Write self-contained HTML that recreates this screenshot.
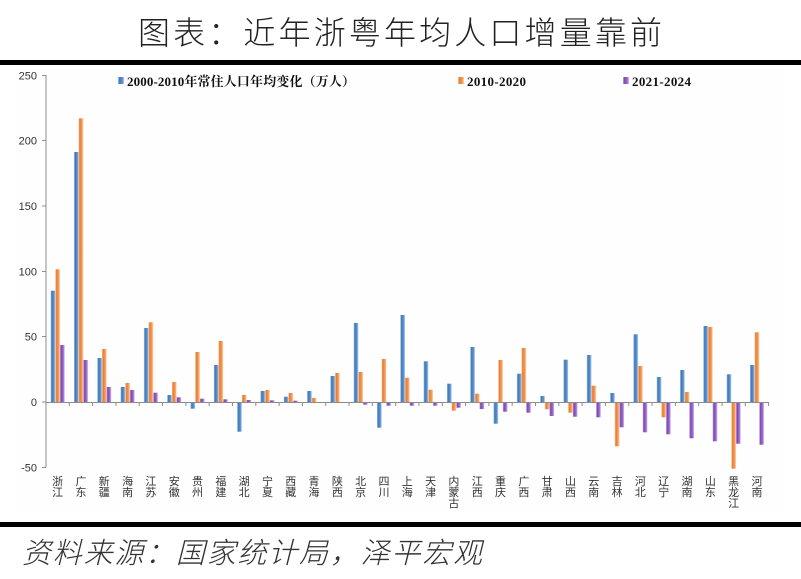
<!DOCTYPE html>
<html><head><meta charset="utf-8">
<style>
html,body{margin:0;padding:0;background:#fff;}
body{width:801px;height:579px;overflow:hidden;position:relative;}
svg{display:block;}
</style></head>
<body>
<svg width="801" height="579" viewBox="0 0 801 579" xmlns="http://www.w3.org/2000/svg">
<defs>
<linearGradient id="gb" x1="0" y1="0" x2="1" y2="0">
<stop offset="0" stop-color="#a9c9ea"/><stop offset="0.25" stop-color="#3f79b9"/><stop offset="0.7" stop-color="#5c90cb"/><stop offset="1" stop-color="#b3d0ee"/>
</linearGradient>
<linearGradient id="go" x1="0" y1="0" x2="1" y2="0">
<stop offset="0" stop-color="#fbc9a2"/><stop offset="0.25" stop-color="#ea7a30"/><stop offset="0.7" stop-color="#f39b58"/><stop offset="1" stop-color="#fcd3b2"/>
</linearGradient>
<linearGradient id="gp" x1="0" y1="0" x2="1" y2="0">
<stop offset="0" stop-color="#c9aae3"/><stop offset="0.25" stop-color="#7b47b1"/><stop offset="0.7" stop-color="#9b6bcc"/><stop offset="1" stop-color="#d6bdec"/>
</linearGradient>
</defs>
<rect x="0" y="0" width="801" height="579" fill="#fff"/>
<rect x="17" y="66" width="766" height="445" fill="#fefefe"/>

<!-- title -->
<text x="138" y="44" textLength="524" lengthAdjust="spacing" font-family="'Liberation Sans','Noto Sans CJK SC',sans-serif" font-size="32" font-weight="300" fill="#222">图表：近年浙粤年均人口增量靠前</text>
<rect x="0" y="60" width="801" height="5" fill="#000"/>

<!-- footer -->
<rect x="0" y="522" width="801" height="5" fill="#000"/>
<text x="22" y="563" textLength="460" lengthAdjust="spacing" font-family="'Liberation Sans','Noto Sans CJK SC',sans-serif" font-size="29" font-style="italic" font-weight="300" fill="#333">资料来源：国家统计局，泽平宏观</text>

<!-- y axis -->
<g stroke="#8c8c8c" stroke-width="1">
<line x1="46" y1="75" x2="46" y2="467.5"/>
<line x1="42" y1="75.5" x2="46" y2="75.5"/>
<line x1="42" y1="140.5" x2="46" y2="140.5"/>
<line x1="42" y1="206" x2="46" y2="206"/>
<line x1="42" y1="271.5" x2="46" y2="271.5"/>
<line x1="42" y1="336.5" x2="46" y2="336.5"/>
<line x1="42" y1="402" x2="46" y2="402"/>
<line x1="42" y1="467.5" x2="46" y2="467.5"/>
</g>
<g font-family="'Liberation Sans',sans-serif" font-size="11" fill="#333" text-anchor="end">
<text x="37" y="79.5">250</text>
<text x="37" y="144.5">200</text>
<text x="37" y="210">150</text>
<text x="37" y="275.5">100</text>
<text x="37" y="340.5">50</text>
<text x="37" y="406">0</text>
<text x="37" y="471.5">-50</text>
</g>

<!-- legend -->
<rect x="118" y="77" width="6" height="7" fill="url(#gb)"/>
<text x="127" y="86" textLength="228" lengthAdjust="spacing" font-family="'Liberation Serif','Noto Serif CJK SC',serif" font-size="13" font-weight="bold" fill="#111">2000-2010年常住人口年均变化（万人）</text>
<rect x="458" y="77" width="6" height="7" fill="url(#go)"/>
<text x="467" y="86" textLength="59" lengthAdjust="spacing" font-family="'Liberation Serif','Noto Serif CJK SC',serif" font-size="13" font-weight="bold" fill="#111">2010-2020</text>
<rect x="623" y="77" width="6" height="7" fill="url(#gp)"/>
<text x="632" y="86" textLength="59" lengthAdjust="spacing" font-family="'Liberation Serif','Noto Serif CJK SC',serif" font-size="13" font-weight="bold" fill="#111">2021-2024</text>

<!-- bars blue -->
<g fill="url(#gb)">
<rect x="50.66" y="290.7" width="4.66" height="111.3"/>
<rect x="73.97" y="152" width="4.66" height="250"/>
<rect x="97.28" y="358" width="4.66" height="44"/>
<rect x="120.59" y="387" width="4.66" height="15"/>
<rect x="143.90" y="328" width="4.66" height="74"/>
<rect x="167.21" y="395" width="4.66" height="7"/>
<rect x="190.52" y="402" width="4.66" height="6.7"/>
<rect x="213.83" y="365" width="4.66" height="37"/>
<rect x="237.14" y="402" width="4.66" height="29.7"/>
<rect x="260.45" y="391" width="4.66" height="11"/>
<rect x="283.76" y="396.7" width="4.66" height="5.3"/>
<rect x="307.07" y="391" width="4.66" height="11"/>
<rect x="330.38" y="376" width="4.66" height="26"/>
<rect x="353.69" y="323" width="4.66" height="79"/>
<rect x="377.00" y="402" width="4.66" height="25.7"/>
<rect x="400.31" y="315" width="4.66" height="87"/>
<rect x="423.62" y="361.3" width="4.66" height="40.7"/>
<rect x="446.93" y="383.7" width="4.66" height="18.3"/>
<rect x="470.24" y="347" width="4.66" height="55"/>
<rect x="493.55" y="402" width="4.66" height="21.7"/>
<rect x="516.86" y="373.7" width="4.66" height="28.3"/>
<rect x="540.17" y="396" width="4.66" height="6"/>
<rect x="563.48" y="359.7" width="4.66" height="42.3"/>
<rect x="586.79" y="355" width="4.66" height="47"/>
<rect x="610.10" y="393" width="4.66" height="9"/>
<rect x="633.41" y="334.3" width="4.66" height="67.7"/>
<rect x="656.72" y="377" width="4.66" height="25"/>
<rect x="680.03" y="370" width="4.66" height="32"/>
<rect x="703.34" y="326" width="4.66" height="76"/>
<rect x="726.65" y="374.3" width="4.66" height="27.7"/>
<rect x="749.96" y="365" width="4.66" height="37"/>
</g>

<!-- bars orange -->
<g fill="url(#go)">
<rect x="55.32" y="269.3" width="4.66" height="132.7"/>
<rect x="78.63" y="118.3" width="4.66" height="283.7"/>
<rect x="101.94" y="349" width="4.66" height="53"/>
<rect x="125.25" y="383" width="4.66" height="19"/>
<rect x="148.56" y="322.3" width="4.66" height="79.7"/>
<rect x="171.87" y="382" width="4.66" height="20"/>
<rect x="195.18" y="352" width="4.66" height="50"/>
<rect x="218.49" y="341" width="4.66" height="61"/>
<rect x="241.80" y="395" width="4.66" height="7"/>
<rect x="265.11" y="390" width="4.66" height="12"/>
<rect x="288.42" y="393" width="4.66" height="9"/>
<rect x="311.73" y="398" width="4.66" height="4"/>
<rect x="335.04" y="373" width="4.66" height="29"/>
<rect x="358.35" y="372" width="4.66" height="30"/>
<rect x="381.66" y="359" width="4.66" height="43"/>
<rect x="404.97" y="377.7" width="4.66" height="24.3"/>
<rect x="428.28" y="389.7" width="4.66" height="12.3"/>
<rect x="451.59" y="402" width="4.66" height="8.7"/>
<rect x="474.90" y="393.7" width="4.66" height="8.3"/>
<rect x="498.21" y="360" width="4.66" height="42"/>
<rect x="521.52" y="348" width="4.66" height="54"/>
<rect x="544.83" y="402" width="4.66" height="7.3"/>
<rect x="568.14" y="402" width="4.66" height="10.7"/>
<rect x="591.45" y="385.7" width="4.66" height="16.3"/>
<rect x="614.76" y="402" width="4.66" height="44.3"/>
<rect x="638.07" y="366" width="4.66" height="36"/>
<rect x="661.38" y="402" width="4.66" height="15.3"/>
<rect x="684.69" y="392" width="4.66" height="10"/>
<rect x="708.00" y="327" width="4.66" height="75"/>
<rect x="731.31" y="402" width="4.66" height="66.7"/>
<rect x="754.62" y="332.3" width="4.66" height="69.7"/>
</g>

<!-- bars purple -->
<g fill="url(#gp)">
<rect x="59.98" y="345" width="4.66" height="57"/>
<rect x="83.29" y="360" width="4.66" height="42"/>
<rect x="106.60" y="387" width="4.66" height="15"/>
<rect x="129.91" y="390" width="4.66" height="12"/>
<rect x="153.22" y="392.7" width="4.66" height="9.3"/>
<rect x="176.53" y="397.3" width="4.66" height="4.7"/>
<rect x="199.84" y="398.7" width="4.66" height="3.3"/>
<rect x="223.15" y="399.3" width="4.66" height="2.7"/>
<rect x="246.46" y="400" width="4.66" height="2"/>
<rect x="269.77" y="400.3" width="4.66" height="1.7"/>
<rect x="293.08" y="400.7" width="4.66" height="1.3"/>
<rect x="363.01" y="402" width="4.66" height="2.7"/>
<rect x="386.32" y="402" width="4.66" height="3.7"/>
<rect x="409.63" y="402" width="4.66" height="3.7"/>
<rect x="432.94" y="402" width="4.66" height="3.7"/>
<rect x="456.25" y="402" width="4.66" height="5.7"/>
<rect x="479.56" y="402" width="4.66" height="7"/>
<rect x="502.87" y="402" width="4.66" height="9.7"/>
<rect x="526.18" y="402" width="4.66" height="10.7"/>
<rect x="549.49" y="402" width="4.66" height="14"/>
<rect x="572.80" y="402" width="4.66" height="14.7"/>
<rect x="596.11" y="402" width="4.66" height="15.3"/>
<rect x="619.42" y="402" width="4.66" height="25.3"/>
<rect x="642.73" y="402" width="4.66" height="30.3"/>
<rect x="666.04" y="402" width="4.66" height="32.3"/>
<rect x="689.35" y="402" width="4.66" height="36.3"/>
<rect x="712.66" y="402" width="4.66" height="39.3"/>
<rect x="735.97" y="402" width="4.66" height="41.7"/>
<rect x="759.28" y="402" width="4.66" height="42.7"/>
</g>

<!-- x axis -->
<g stroke="#8c8c8c" stroke-width="1">
<line x1="46" y1="402.5" x2="769" y2="402.5"/>
<line x1="46" y1="402" x2="46" y2="406"/>
<line x1="69.31" y1="402" x2="69.31" y2="406"/>
<line x1="92.62" y1="402" x2="92.62" y2="406"/>
<line x1="115.93" y1="402" x2="115.93" y2="406"/>
<line x1="139.24" y1="402" x2="139.24" y2="406"/>
<line x1="162.55" y1="402" x2="162.55" y2="406"/>
<line x1="185.86" y1="402" x2="185.86" y2="406"/>
<line x1="209.17" y1="402" x2="209.17" y2="406"/>
<line x1="232.48" y1="402" x2="232.48" y2="406"/>
<line x1="255.79" y1="402" x2="255.79" y2="406"/>
<line x1="279.10" y1="402" x2="279.10" y2="406"/>
<line x1="302.41" y1="402" x2="302.41" y2="406"/>
<line x1="325.72" y1="402" x2="325.72" y2="406"/>
<line x1="349.03" y1="402" x2="349.03" y2="406"/>
<line x1="372.34" y1="402" x2="372.34" y2="406"/>
<line x1="395.65" y1="402" x2="395.65" y2="406"/>
<line x1="418.96" y1="402" x2="418.96" y2="406"/>
<line x1="442.27" y1="402" x2="442.27" y2="406"/>
<line x1="465.58" y1="402" x2="465.58" y2="406"/>
<line x1="488.89" y1="402" x2="488.89" y2="406"/>
<line x1="512.20" y1="402" x2="512.20" y2="406"/>
<line x1="535.51" y1="402" x2="535.51" y2="406"/>
<line x1="558.82" y1="402" x2="558.82" y2="406"/>
<line x1="582.13" y1="402" x2="582.13" y2="406"/>
<line x1="605.44" y1="402" x2="605.44" y2="406"/>
<line x1="628.75" y1="402" x2="628.75" y2="406"/>
<line x1="652.06" y1="402" x2="652.06" y2="406"/>
<line x1="675.37" y1="402" x2="675.37" y2="406"/>
<line x1="698.68" y1="402" x2="698.68" y2="406"/>
<line x1="721.99" y1="402" x2="721.99" y2="406"/>
<line x1="745.30" y1="402" x2="745.30" y2="406"/>
<line x1="768.61" y1="402" x2="768.61" y2="406"/>
</g>

<!-- x labels -->
<g font-family="'Liberation Sans','Noto Sans CJK SC',sans-serif" font-size="11" fill="#333" text-anchor="middle">
<text x="57.65" y="485">浙</text><text x="57.65" y="496">江</text>
<text x="80.96" y="485">广</text><text x="80.96" y="496">东</text>
<text x="104.27" y="485">新</text><text x="104.27" y="496">疆</text>
<text x="127.58" y="485">海</text><text x="127.58" y="496">南</text>
<text x="150.89" y="485">江</text><text x="150.89" y="496">苏</text>
<text x="174.20" y="485">安</text><text x="174.20" y="496">徽</text>
<text x="197.51" y="485">贵</text><text x="197.51" y="496">州</text>
<text x="220.82" y="485">福</text><text x="220.82" y="496">建</text>
<text x="244.13" y="485">湖</text><text x="244.13" y="496">北</text>
<text x="267.44" y="485">宁</text><text x="267.44" y="496">夏</text>
<text x="290.75" y="485">西</text><text x="290.75" y="496">藏</text>
<text x="314.06" y="485">青</text><text x="314.06" y="496">海</text>
<text x="337.37" y="485">陕</text><text x="337.37" y="496">西</text>
<text x="360.68" y="485">北</text><text x="360.68" y="496">京</text>
<text x="383.99" y="485">四</text><text x="383.99" y="496">川</text>
<text x="407.30" y="485">上</text><text x="407.30" y="496">海</text>
<text x="430.61" y="485">天</text><text x="430.61" y="496">津</text>
<text x="453.92" y="485">内</text><text x="453.92" y="496">蒙</text><text x="453.92" y="507">古</text>
<text x="477.23" y="485">江</text><text x="477.23" y="496">西</text>
<text x="500.54" y="485">重</text><text x="500.54" y="496">庆</text>
<text x="523.85" y="485">广</text><text x="523.85" y="496">西</text>
<text x="547.16" y="485">甘</text><text x="547.16" y="496">肃</text>
<text x="570.47" y="485">山</text><text x="570.47" y="496">西</text>
<text x="593.78" y="485">云</text><text x="593.78" y="496">南</text>
<text x="617.09" y="485">吉</text><text x="617.09" y="496">林</text>
<text x="640.40" y="485">河</text><text x="640.40" y="496">北</text>
<text x="663.71" y="485">辽</text><text x="663.71" y="496">宁</text>
<text x="687.02" y="485">湖</text><text x="687.02" y="496">南</text>
<text x="710.33" y="485">山</text><text x="710.33" y="496">东</text>
<text x="733.64" y="485">黑</text><text x="733.64" y="496">龙</text><text x="733.64" y="507">江</text>
<text x="756.95" y="485">河</text><text x="756.95" y="496">南</text>
</g>
</svg>
</body></html>
